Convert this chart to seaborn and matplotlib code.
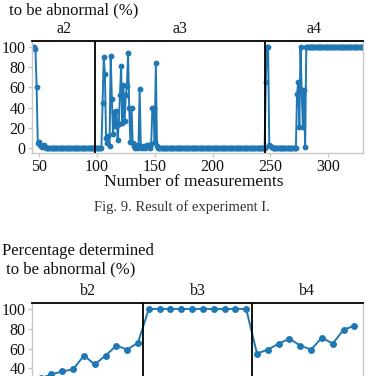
import numpy as np
import pandas as pd
import matplotlib
matplotlib.use("Agg")
import matplotlib.pyplot as plt
import matplotlib.transforms as mtransforms
import seaborn as sns

# ---- data ----
# experiment I: percentage per measurement, measurement numbers start at 46
first_measurement = 46
a2_pct = [100, 98, 60, 5, 6, 3, 2, 1, 3, 1,
          0, 0, 0, 0, 0, 0, 0, 0, 0, 0, 0, 0, 0, 0, 0, 0, 0, 0, 0, 0, 0, 0,
          0, 0, 0, 0, 0, 0, 0, 0, 0, 0, 0, 0, 0, 0, 0, 0, 0, 0, 0, 0, 0]
a3_pct = [0, 0, 0, 0, 0, 0,
          45, 90, 73, 10, 5, 12, 2, 91, 49, 14, 36, 22, 37, 8, 24, 52, 81,
          25, 62, 27, 52, 61, 94, 40, 6, 40, 5, 2, 0, 1, 3, 0, 58, 2, 0,
          1, 2, 0, 3, 1, 2, 0, 4, 40, 40, 6, 84, 2, 0,
          0, 0, 0, 0, 0, 0, 0, 0, 0, 0, 0, 0, 0, 0, 0, 0, 0, 0, 0, 0, 0, 0, 0,
          0, 0, 0, 0, 0, 0, 0, 0, 0, 0, 0, 0, 0, 0, 0, 0, 0, 0, 0, 0, 0, 0, 0,
          0, 0, 0, 0, 0, 0, 0, 0, 0, 0, 0, 0, 0, 0, 0, 0, 0, 0, 0, 0, 0, 0, 0,
          0, 0, 0, 0, 0, 0, 0, 0, 0, 0, 0, 0, 0, 0, 0, 0, 0, 0, 0, 0, 0, 0, 0]
a4_pct = [65, 100, 100, 3, 2, 1,
          0, 0, 0, 0, 0, 0, 0, 0, 0, 0, 0, 0, 0, 0, 0, 0, 0, 0, 0, 0, 0,
          53, 65, 21, 100, 57, 21, 57, 1,
          100, 100, 100, 100, 100, 100, 100, 100, 100, 100, 100, 100, 100,
          100, 100, 100, 100, 100, 100, 100, 100, 100, 100, 100, 100, 100,
          100, 100, 100, 100, 100, 100, 100, 100, 100, 100, 100, 100, 100,
          100, 100, 100, 100, 100, 100, 100, 100, 100, 100, 100]
a_labels = ["a2", "a3", "a4"]

# experiment II: percentage per measurement
b2_pct = [30, 34, 37, 39, 53, 44, 53, 63, 59, 66]
b3_pct = [100, 100, 100, 100, 100, 100, 100, 100, 100, 100]
b4_pct = [55, 59, 65, 70, 63, 59, 71, 65, 79, 83]
b_labels = ["b2", "b3", "b4"]

ylabel_text = "Percentage determined\n to be abnormal (%)"

# ---- style ----
sns.set_theme(style="ticks")
plt.rcParams["font.family"] = ["Liberation Serif", "DejaVu Serif"]
line_color = "#1f77b4"
grey = "#c8c8c8"

W, H = 366, 376
fig = plt.figure(figsize=(W / 100, H / 100), dpi=100)


def px_axes(left, top, right, bottom):
    return fig.add_axes([left / W, 1 - bottom / H, (right - left) / W, (bottom - top) / H])


def style_axes(ax):
    for side in ["left", "bottom", "right"]:
        ax.spines[side].set_color(grey)
        ax.spines[side].set_linewidth(1.0)
    ax.spines["top"].set_color("black")
    ax.spines["top"].set_linewidth(1.3)
    ax.tick_params(axis="both", colors=grey, labelcolor="#111111",
                   labelsize=11.5, length=3, width=1, pad=1.5)
    ax.set_xlabel("")
    ax.set_ylabel("")


def add_sections(ax, bounds, labels):
    for b in bounds[1:-1]:
        ax.axvline(b, color="black", lw=1.3, zorder=5)
    trans = mtransforms.blended_transform_factory(ax.transData, ax.transAxes)
    for lo, hi, lab in zip(bounds[:-1], bounds[1:], labels):
        ax.text((lo + hi) / 2, 1.04, lab, transform=trans, ha="center",
                va="bottom", fontsize=11.5, color="#111111")


# ---- top chart (experiment I) ----
top_pct = a2_pct + a3_pct + a4_pct
top_df = pd.DataFrame({
    "Number of measurements": np.arange(first_measurement, first_measurement + len(top_pct)),
    "Percentage": top_pct,
})
a3_start = first_measurement + len(a2_pct)
a4_start = a3_start + len(a3_pct)

ax1 = px_axes(32, 41, 363, 153)
sns.lineplot(data=top_df, x="Number of measurements", y="Percentage", ax=ax1,
             color=line_color, marker="o", markersize=4.2, markeredgewidth=0,
             linewidth=1.4, estimator=None)
ax1.set_xlim(44, 330)
ax1.set_ylim(-5, 106)
ax1.set_xticks([50, 100, 150, 200, 250, 300])
ax1.set_yticks([0, 20, 40, 60, 80, 100])
style_axes(ax1)
add_sections(ax1, [44, a3_start - 0.5, a4_start - 0.5, 330], a_labels)

fig.text(5 / W, 1 - 1 / H, ylabel_text, ha="left", va="center",
         fontsize=12, linespacing=1.2, color="#111111")
fig.text(194 / W, 1 - 182 / H, "Number of measurements", ha="center",
         va="center", fontsize=12.5, color="#111111")
fig.text(182 / W, 1 - 207 / H, "Fig. 9. Result of experiment I.", ha="center",
         va="center", fontsize=10.5, color="#333333")

# ---- bottom chart (experiment II) ----
bottom_pct = b2_pct + b3_pct + b4_pct
bottom_df = pd.DataFrame({
    "Number of measurements": np.arange(1, len(bottom_pct) + 1),
    "Percentage": bottom_pct,
})
ax2 = px_axes(32, 303, 363, 413)
sns.lineplot(data=bottom_df, x="Number of measurements", y="Percentage", ax=ax2,
             color=line_color, marker="o", markersize=5, markeredgewidth=0,
             linewidth=1.4, estimator=None)
ax2.set_xlim(0.2, 30.8)
ax2.set_ylim(-5, 106)
# only the upper part of this panel is on the visible page
ax2.set_yticks([40, 60, 80, 100])
style_axes(ax2)
ax2.tick_params(axis="x", labelbottom=False)
n2, n3 = len(b2_pct), len(b3_pct)
add_sections(ax2, [0.2, n2 + 0.5, n2 + n3 + 0.5, 30.8], b_labels)

fig.text(2 / W, 1 - 260 / H, ylabel_text, ha="left", va="center",
         fontsize=12, linespacing=1.2, color="#111111")

fig.savefig("out.png", dpi=100)
